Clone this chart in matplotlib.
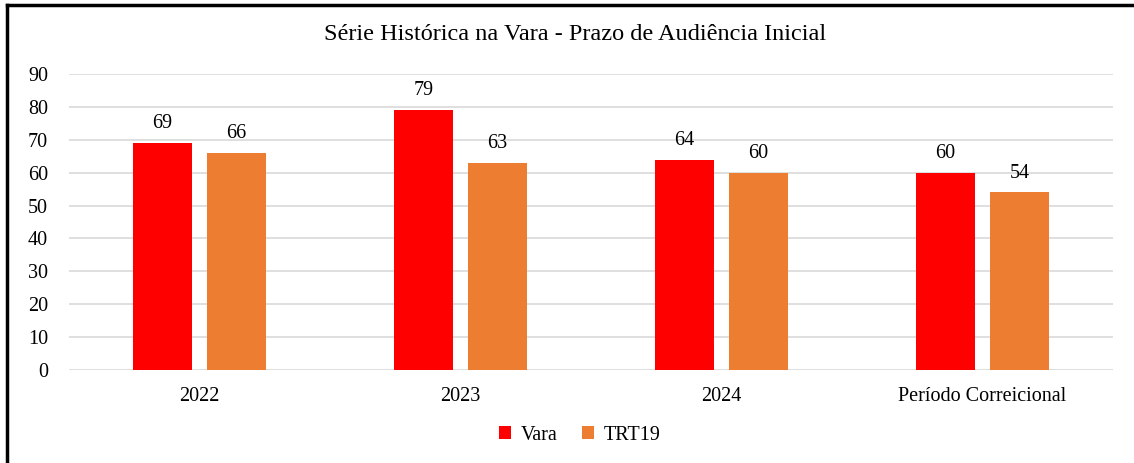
import matplotlib.pyplot as plt
import numpy as np

# Dados do gráfico
categorias = ["2022", "2023", "2024", "Período Correicional"]
vara = [69, 79, 64, 60]
trt19 = [66, 63, 60, 54]
y_ticks = [0, 10, 20, 30, 40, 50, 60, 70, 80, 90]

plt.rcParams['font.family'] = ['Liberation Serif', 'DejaVu Serif']

fig = plt.figure(figsize=(11.34, 4.63), dpi=100)
ax = fig.add_axes([69 / 1134, 1 - 370 / 463, (1113 - 69) / 1134, (370 - 74) / 463])

x = np.arange(len(categorias))
largura = 0.226
desloc = 0.142
b1 = ax.bar(x - desloc, vara, largura, color='#FF0000', label='Vara', zorder=3)
b2 = ax.bar(x + desloc, trt19, largura, color='#ED7D31', label='TRT19', zorder=3)

for barras in (b1, b2):
    for b in barras:
        ax.text(b.get_x() + b.get_width() / 2, b.get_height() + 3.0, f"{int(b.get_height())}",
                ha='center', va='bottom', fontsize=14.5)

ax.set_xlim(-0.5, len(categorias) - 0.5)
ax.set_ylim(0, 90)
ax.set_yticks(y_ticks)
ax.set_xticks(x)
ax.set_xticklabels(categorias, fontsize=14.5)
ax.tick_params(axis='y', labelsize=14.5, length=0, pad=15)
ax.tick_params(axis='x', length=0, pad=12)
ax.grid(axis='y', color='#d9d9d9', linewidth=1.2, zorder=0)
for s in ax.spines.values():
    s.set_visible(False)

fig.text(575 / 1134, 1 - 35 / 463, "Série Histórica na Vara - Prazo de Audiência Inicial",
         ha='center', va='center', fontsize=17.5)

fig.legend(handles=[b1, b2], loc='center', bbox_to_anchor=(580 / 1134, 1 - 435 / 463),
           ncol=2, frameon=False, fontsize=14.5, handlelength=0.6, handleheight=0.6,
           handletextpad=0.5, columnspacing=1.2)

# moldura
fig.add_artist(plt.Line2D([7 / 1134, 7 / 1134], [0, 1 - 5 / 463], color='black', linewidth=2.5,
                          transform=fig.transFigure))
fig.add_artist(plt.Line2D([7 / 1134, 1133 / 1134], [1 - 5 / 463, 1 - 5 / 463], color='black',
                          linewidth=2.5, transform=fig.transFigure))

fig.savefig("out.png", dpi=100)
